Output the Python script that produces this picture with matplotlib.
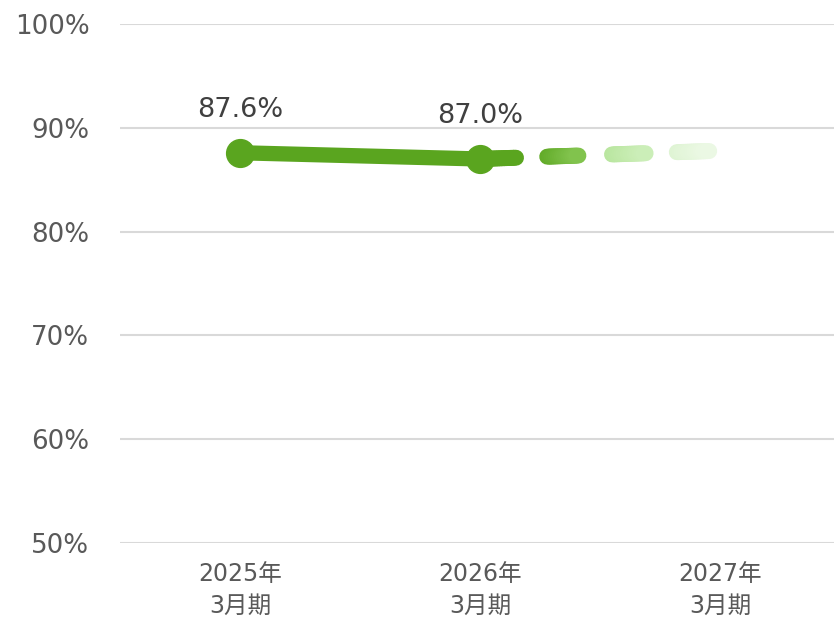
import numpy as np
import matplotlib.pyplot as plt
from matplotlib.colors import to_rgb

plt.rcParams['font.family'] = ['DejaVu Sans', 'Noto Sans CJK JP']

categories = ["2025年\n3月期", "2026年\n3月期", "2027年\n3月期"]
actual = [87.6, 87.0]
forecast = [87.0, 87.8]
labels = ["87.6%", "87.0%"]
yticks = [50, 60, 70, 80, 90, 100]

green = "#5aa51f"
txt = "#595959"

fig = plt.figure(figsize=(8.34, 6.17), dpi=100)
ax = fig.add_axes([0.1439, 0.12, 0.8561, 0.841])

x = np.arange(len(categories))

# forecast: dashed line fading from green to white
x0, x1 = x[1], x[2]
y0, y1 = forecast
stops_t = [0.0, 0.25, 0.45, 0.52, 0.72, 0.79, 1.0]
stops_c = ["#5aa51f", "#5aa51f", "#8ccb5a", "#b5e49a", "#d0f0be", "#dcf3d0", "#f0faea"]
stops_rgb = np.array([to_rgb(c) for c in stops_c])

def grad(t):
    return [np.interp(t, stops_t, stops_rgb[:, k]) for k in range(3)]

dashes = [(0.0, 0.15), (0.28, 0.41), (0.55, 0.69), (0.82, 0.955)]
for a, b in dashes:
    ts = np.linspace(a, b, 16)
    for t0, t1 in zip(ts[:-1], ts[1:]):
        tm = (t0 + t1) / 2
        ax.plot([x0 + (x1 - x0) * t0, x0 + (x1 - x0) * t1],
                [y0 + (y1 - y0) * t0, y0 + (y1 - y0) * t1],
                color=grad(tm), lw=11.5, solid_capstyle='round', zorder=2)

# actual results
ax.plot(x[:2], actual, color=green, lw=11, solid_capstyle='round',
        marker='o', markersize=20, zorder=3)

for xi, v, lab in zip(x[:2], actual, labels):
    ax.annotate(lab, (xi, v), xytext=(0, 31), textcoords='offset points',
                ha='center', va='center', fontsize=19.5, color="#404040")

ax.set_ylim(50, 100)
ax.set_xlim(-0.5, 2.475)
ax.set_yticks(yticks)
ax.set_yticklabels([f"{v}%" for v in yticks])
ax.set_xticks(x)
ax.set_xticklabels(categories, linespacing=1.4)
ax.tick_params(axis='y', length=0, pad=22, labelsize=18.8, labelcolor=txt)
ax.tick_params(axis='x', length=0, pad=14, labelsize=17, labelcolor=txt)
ax.grid(axis='y', color="#d9d9d9", lw=1.5)
ax.set_axisbelow(True)
for s in ax.spines.values():
    s.set_visible(False)

fig.savefig("out.png", dpi=100)
